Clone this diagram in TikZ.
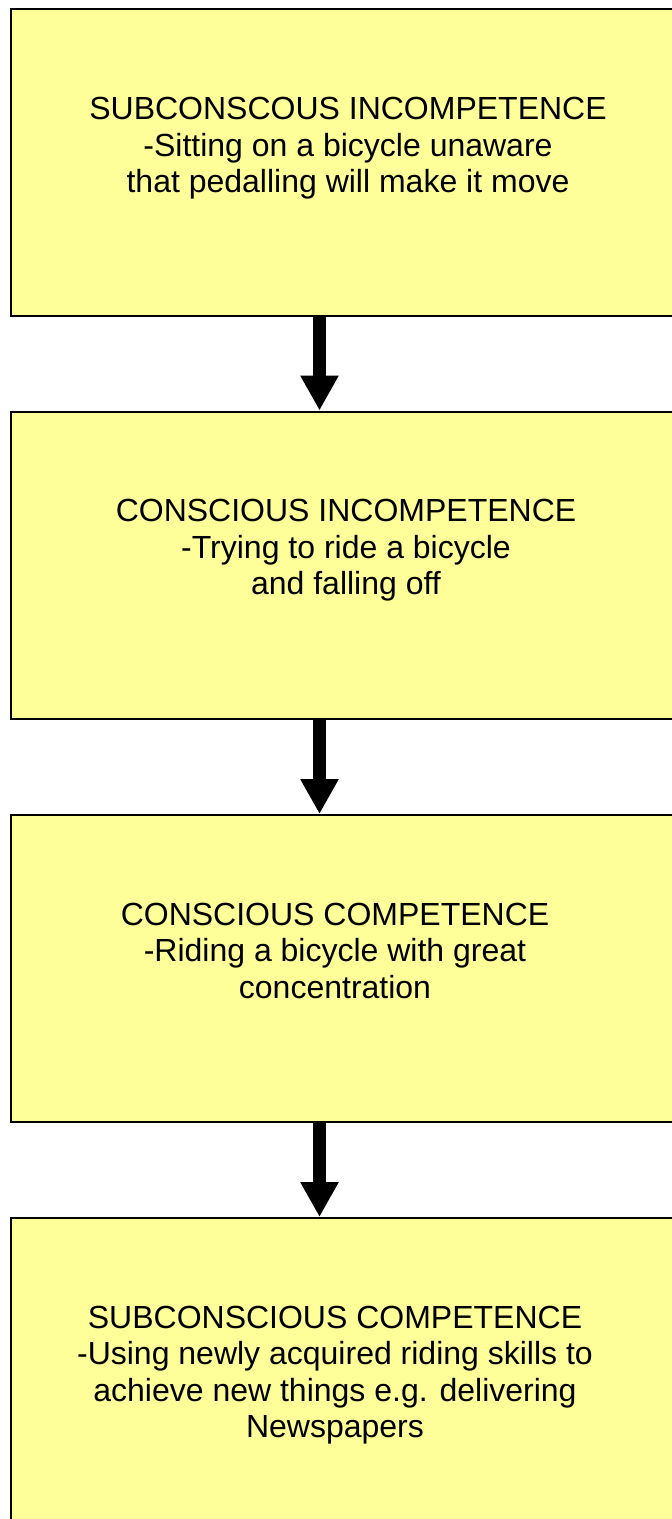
\documentclass[tikz,border=0pt]{standalone}
\usepackage{fontspec}
\setmainfont{Liberation Sans}
\usetikzlibrary{arrows.meta}

\tikzset{
	stage/.style={draw=black,line width=1pt,fill=stageyellow,minimum width=339.5pt,minimum height=153.5pt,inner sep=0pt},
	stagetext/.style={anchor=north,align=center,inner sep=0pt,font=\fontsize{16}{18.25}\selectfont},
	stagearrow/.style={line width=6.5pt,-{Triangle[length=17.5pt,width=18pt]}}
}
\definecolor{stageyellow}{HTML}{FFFF99}

\begin{document}
\begin{tikzpicture}[x=0.5pt,y=-0.5pt]
			\useasboundingbox (0,0) rectangle (672,1519);
			\clip (0,0) rectangle (672,1519);
			\node[stage] (stage1) at (350.5,162.75) {};
			\node[stage] (stage2) at (350.5,565) {};
			\node[stage] (stage3) at (350.5,968.5) {};
			\node[stage] (stage4) at (350.5,1371.5) {};
			\node[stagetext] (text1) at (348,97) {SUBCONSCOUS INCOMPETENCE\\-Sitting on a bicycle unaware\\that pedalling will make it move};
			\node[stagetext] (text2) at (346,499) {CONSCIOUS INCOMPETENCE\\-Trying to ride a bicycle\\and falling off};
			\node[stagetext] (text3) at (335,902.5) {CONSCIOUS COMPETENCE\\-Riding a bicycle with great\\concentration};
			\node[stagetext] (text4) at (335,1305.5) {SUBCONSCIOUS COMPETENCE\\-Using newly acquired riding skills to\\achieve new things e.g. delivering\\Newspapers};
			% arrows sit left of the box centres
			\coordinate (axis) at (319.5,0);
			\draw[stagearrow] (stage1.south -| axis) -- (stage2.north -| axis);
			\draw[stagearrow] (stage2.south -| axis) -- (stage3.north -| axis);
			\draw[stagearrow] (stage3.south -| axis) -- (stage4.north -| axis);
		\end{tikzpicture}
\end{document}
